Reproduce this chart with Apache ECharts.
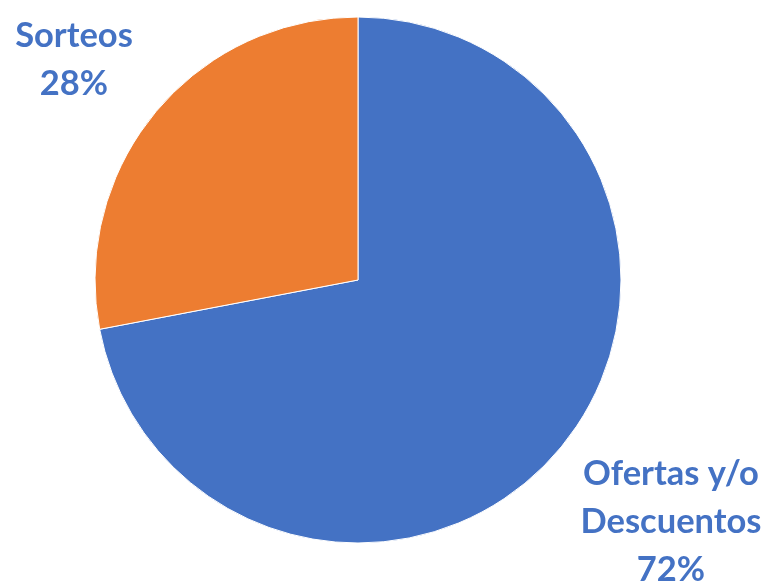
<!DOCTYPE html>
<html>
<head>
<meta charset="utf-8">
<script src="https://cdn.jsdelivr.net/npm/echarts@6/dist/echarts.min.js"></script>
<style>html,body{margin:0;padding:0;background:#fff}#c{width:770px;height:583px}</style>
</head>
<body>
<div id="c"></div>
<script>
const categories = ["Ofertas y/o\nDescuentos", "Sorteos"];
const values = [72, 28];
const colors = ["#4472C4", "#ED7D31"];
const labelPos = [[671, 522], [74, 60]];

const chart = echarts.init(document.getElementById('c'), null, {renderer: 'canvas'});
chart.setOption({
  animation: false,
  series: [{
    type: 'pie',
    center: [358, 280],
    radius: [0, 263],
    startAngle: 90,
    clockwise: true,
    data: categories.map((n, i) => ({name: n, value: values[i], itemStyle: {color: colors[i]}})),
    itemStyle: {borderColor: '#fff', borderWidth: 1},
    label: {
      show: true,
      position: 'outside',
      formatter: p => p.name + '\n' + p.value + '%',
      color: '#4472C4',
      fontFamily: 'Lato',
      fontWeight: 'bold',
      fontSize: 34.5,
      lineHeight: 48,
      align: 'center',
      overflow: 'none',
      width: 300
    },
    labelLine: {show: false},
    labelLayout: p => ({x: labelPos[p.dataIndex][0], y: labelPos[p.dataIndex][1], align: 'center', verticalAlign: 'middle'})
  }]
});
</script>
</body>
</html>
